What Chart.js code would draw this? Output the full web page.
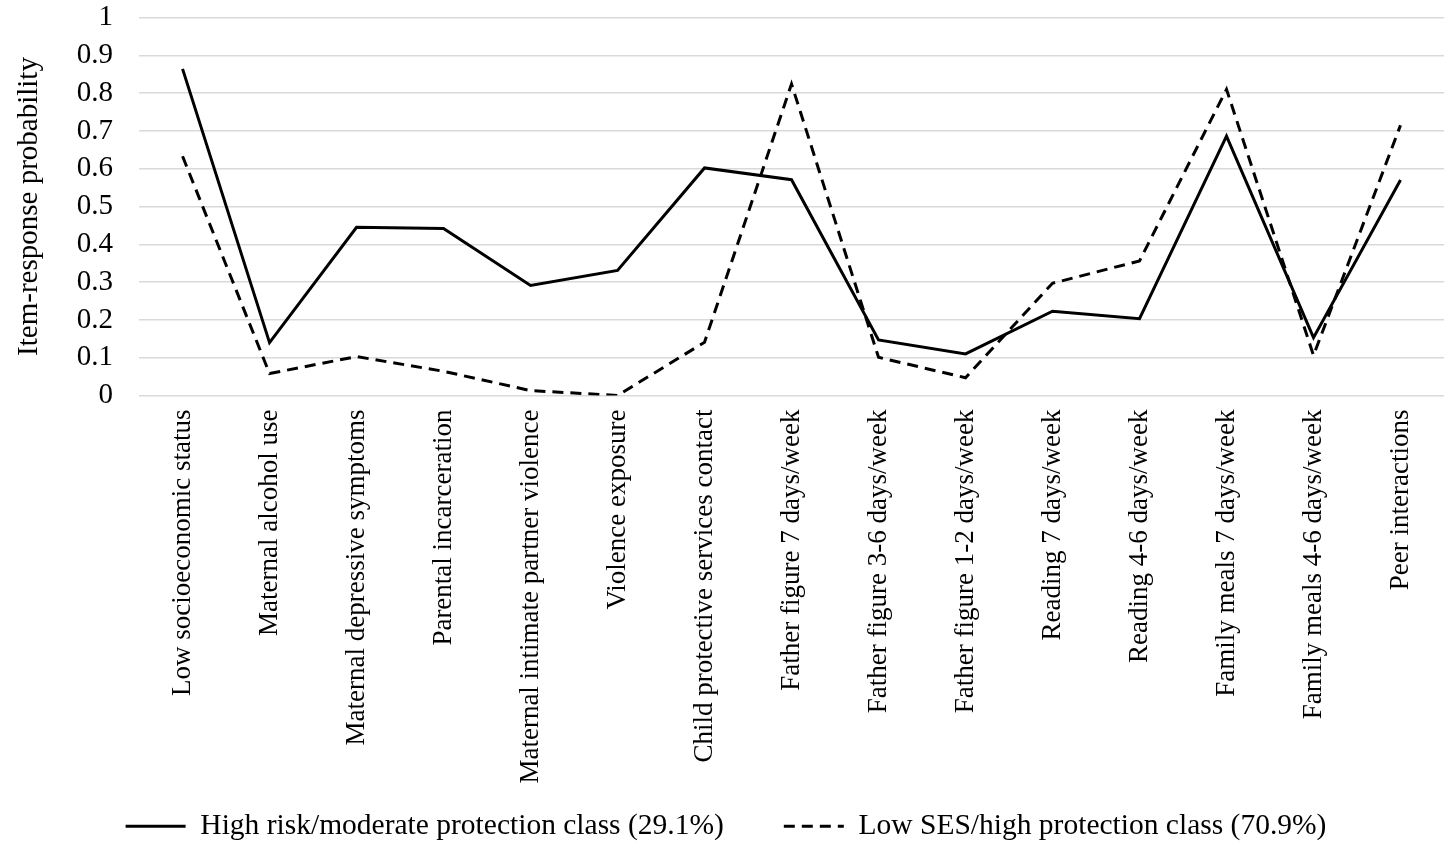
<!DOCTYPE html>
<html>
<head>
<meta charset="utf-8">
<script src="https://cdn.jsdelivr.net/npm/chart.js@4"></script>
<style>
  body { margin: 0; background: #fff; }
  #wrap { width: 1452px; height: 842px; }
</style>
</head>
<body>
<div id="wrap"><canvas id="irp-chart"></canvas></div>
<script>
const categories = ["Low socioeconomic status", "Maternal alcohol use", "Maternal depressive symptoms",
  "Parental incarceration", "Maternal intimate partner violence", "Violence exposure",
  "Child protective services contact", "Father figure 7 days/week", "Father figure 3-6 days/week",
  "Father figure 1-2 days/week", "Reading 7 days/week", "Reading 4-6 days/week",
  "Family meals 7 days/week", "Family meals 4-6 days/week", "Peer interactions"];
const highRisk = [0.864, 0.140, 0.445, 0.442, 0.291, 0.331, 0.602, 0.571, 0.147, 0.110, 0.223, 0.203, 0.686, 0.153, 0.570];
const lowSes = [0.633, 0.058, 0.103, 0.064, 0.013, 0.000, 0.141, 0.824, 0.101, 0.047, 0.297, 0.356, 0.810, 0.106, 0.715];
const yTicks = [0, 0.1, 0.2, 0.3, 0.4, 0.5, 0.6, 0.7, 0.8, 0.9, 1];

const serif = "'Liberation Serif', 'Times New Roman', serif";

// long rotated labels run into the legend box, so widen the label clip after layout
const labelRoom = {
  id: 'labelRoom',
  afterLayout(chart) { chart.scales.x.bottom = chart.height; }
};

const ctx = document.getElementById('irp-chart');
new Chart(ctx, {
  type: 'line',
  data: {
    labels: categories,
    datasets: [{
      label: 'High risk/moderate protection class (29.1%)',
      data: highRisk,
      borderColor: '#000',
      backgroundColor: '#000',
      borderWidth: 3,
      pointRadius: 0,
      tension: 0
    }, {
      label: 'Low SES/high protection class (70.9%)',
      data: lowSes,
      borderColor: '#000',
      backgroundColor: '#000',
      borderWidth: 3,
      borderDash: [11, 7],
      pointRadius: 0,
      tension: 0
    }]
  },
  plugins: [labelRoom],
  options: {
    responsive: true,
    maintainAspectRatio: false,
    animation: false,
    layout: { padding: { top: 0, right: 8, left: 8, bottom: -9 } },
    plugins: {
      tooltip: { enabled: false },
      legend: {
        position: 'bottom',
        labels: {
          usePointStyle: true,
          pointStyle: 'line',
          pointStyleWidth: 60,
          color: '#000',
          padding: 60,
          font: { family: serif, size: 29.5 },
          generateLabels: (chart) => {
            // point style legend drops the dash, so put it back from the dataset
            const items = Chart.defaults.plugins.legend.labels.generateLabels(chart);
            items.forEach((item, i) => {
              item.lineDash = chart.data.datasets[i].borderDash || [];
              item.lineWidth = 3;
              item.strokeStyle = '#000';
            });
            return items;
          }
        }
      }
    },
    scales: {
      x: {
        offset: true,
        grid: { display: false },
        border: { display: false },
        afterFit: (scale) => { scale.height = 356; },
        ticks: {
          color: '#000',
          minRotation: 90,
          maxRotation: 90,
          autoSkip: false,
          padding: 6,
          font: { family: serif, size: 27 }
        }
      },
      y: {
        min: 0,
        max: 1,
        afterBuildTicks: (axis) => { axis.ticks = yTicks.map(v => ({ value: v })); },
        afterFit: (scale) => { scale.paddingTop = 17.5; scale.paddingBottom = 0; },
        grid: { color: '#d9d9d9', lineWidth: 1.5, drawTicks: false },
        border: { display: false },
        ticks: {
          color: '#000',
          autoSkip: false,
          padding: 26,
          font: { family: serif, size: 29 },
          callback: (v) => String(v)
        },
        title: {
          display: true,
          text: 'Item-response probability',
          color: '#000',
          font: { family: serif, size: 29 },
          padding: { bottom: 4 }
        }
      }
    }
  }
});
</script>
</body>
</html>
